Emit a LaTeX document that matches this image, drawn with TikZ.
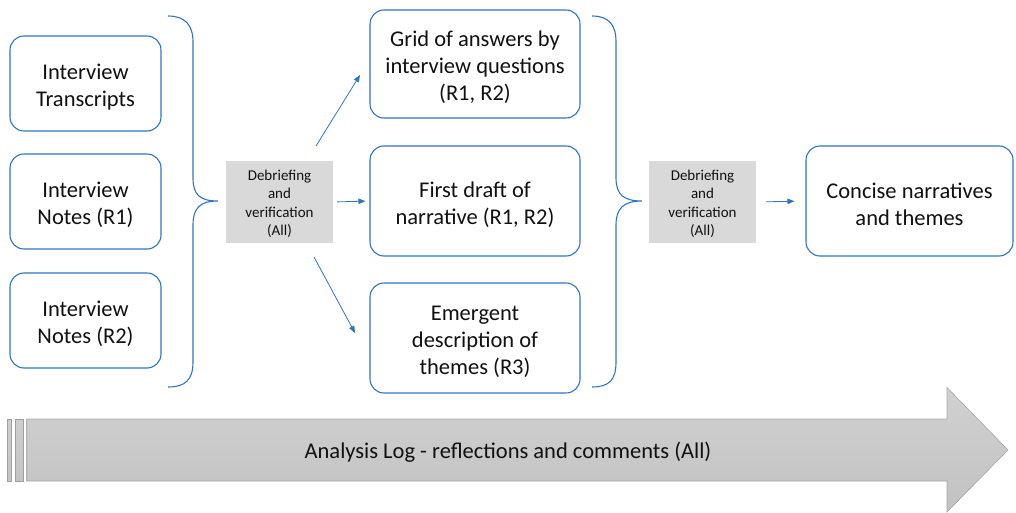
\documentclass[tikz,border=0pt]{standalone}
\usepackage{fontspec}
\setmainfont{Carlito}
\usetikzlibrary{arrows.meta}
\definecolor{bblue}{HTML}{2E75C6}
\definecolor{boxgray}{HTML}{D9D9D9}
\definecolor{txt}{HTML}{111111}
\newcommand{\upstrut}{\rule{0pt}{22.5pt}}
\newcommand{\dstrut}{\rule{0pt}{14pt}}
\tikzset{
  rbox/.style={draw=bblue, line width=1.1pt, rounded corners=14pt, fill=white,
    align=center, text=txt, font=\fontsize{22.5}{27}\selectfont, inner sep=0pt},
  dbox/.style={fill=boxgray, align=center, text=txt, font=\fontsize{15}{18.3}\selectfont,
    minimum width=107pt, minimum height=82pt, inner sep=0pt},
  brace/.style={draw=bblue, line width=1.1pt},
  conn/.style={draw=bblue, line width=0.8pt, -{Triangle[length=7pt,width=5.5pt]}}
}
\begin{document}
\begin{tikzpicture}[x=1pt,y=-1pt]
\useasboundingbox (0,0) rectangle (1016,513);
% left boxes
\node[rbox, minimum width=151pt, minimum height=95pt] (it) at (85.5,83.5) {\upstrut Interview\\Transcripts};
\node[rbox, minimum width=151pt, minimum height=95pt] (n1) at (85.5,201.5) {\upstrut Interview\\Notes (R1)};
\node[rbox, minimum width=151pt, minimum height=95pt] (n2n) at (85.5,320.5) {\upstrut Interview\\Notes (R2)};
% brace 1
\draw[brace] (168,16) .. controls (185,16) and (193,25) .. (193,42) -- (193,178)
  .. controls (193,195) and (200,201) .. (218,201)
  .. controls (200,201) and (193,208) .. (193,225) -- (193,362)
  .. controls (193,380) and (185,387) .. (168,387);
% debrief 1
\node[dbox] (d1) at (279.5,202) {\dstrut Debriefing\\and\\verification\\(All)};
% middle boxes
\node[rbox, minimum width=210pt, minimum height=108pt] (g) at (475,64) {\upstrut Grid of answers by\\interview questions\\(R1, R2)};
\node[rbox, minimum width=210pt, minimum height=110pt] (f) at (475,201) {\upstrut First draft of\\narrative (R1, R2)};
\node[rbox, minimum width=210pt, minimum height=110pt] (e) at (475,338) {\upstrut Emergent\\description of\\themes (R3)};
% arrows
\coordinate (a1s) at (316,146);
\coordinate (a1e) at (360,75);
\coordinate (a3s) at (314,257);
\coordinate (a3e) at (355,333);
\draw[conn] (a1s) -- (a1e);
\draw[conn, shorten <=4pt, shorten >=4pt] (d1.east) -- (f.west);
\draw[conn] (a3s) -- (a3e);
% brace 2
\draw[brace] (592,16) .. controls (609,16) and (616,25) .. (616,42) -- (616,178)
  .. controls (616,195) and (624,201) .. (642,201)
  .. controls (624,201) and (616,208) .. (616,225) -- (616,362)
  .. controls (616,380) and (609,387) .. (592,387);
% debrief 2
\node[dbox] (d2) at (702.5,202) {\dstrut Debriefing\\and\\verification\\(All)};
% right box
\node[rbox, minimum width=207pt, minimum height=110pt] (c) at (909.5,201) {\upstrut Concise narratives\\and themes};
\draw[conn, shorten <=10pt, shorten >=11pt] (d2.east) -- (c.west);
% big arrow
\shade[top color=gray!38, bottom color=gray!46, draw=gray!75, line width=0.6pt]
  (7.7,419) rectangle (11.7,481);
\shade[top color=gray!38, bottom color=gray!46, draw=gray!75, line width=0.6pt]
  (15,419) rectangle (23,481);
\shade[top color=gray!36, bottom color=gray!48, draw=gray!70, line width=0.6pt]
  (26.7,419) -- (947,419) -- (947,387.5) -- (1008,450) -- (947,512) -- (947,481) -- (26.7,481) -- cycle;
\node[text=txt, font=\fontsize{22.5}{27}\selectfont] (log) at (508,452) {Analysis Log - reflections and comments (All)};
\end{tikzpicture}
\end{document}
